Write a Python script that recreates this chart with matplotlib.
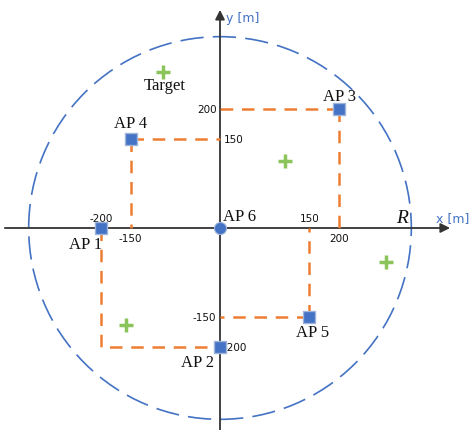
import numpy as np
import matplotlib
matplotlib.use("Agg")
import matplotlib.pyplot as plt
from matplotlib.patches import Circle

# Access point positions [m]
ap_names = ["AP 1", "AP 2", "AP 3", "AP 4", "AP 5", "AP 6"]
ap_x = [-200, 0, 200, -150, 150, 0]
ap_y = [0, -200, 200, 150, -150, 0]

# Target positions [m]
target_x = [-96, 109, 279, -158]
target_y = [262, 113, -57, -163]

# Coverage radius [m]
radius = 321

BLUE = "#4472C4"
ORANGE = "#ED7D31"
GREEN = "#8CC45C"

fig = plt.figure(figsize=(4.71, 4.31), dpi=100)
ax = fig.add_axes([0, 0, 1, 1])
ax.set_xlim(-369.1, 421.1)
ax.set_ylim(-338.9, 384.2)
ax.set_aspect("equal")
ax.axis("off")

# Coordinate axes with arrowheads
ax.annotate("", xy=(386, 0), xytext=(-361, 0),
            arrowprops=dict(arrowstyle="-|>", color="#333333", lw=1.3,
                            mutation_scale=14, shrinkA=0, shrinkB=0), zorder=2)
ax.annotate("", xy=(0, 366), xytext=(0, -340),
            arrowprops=dict(arrowstyle="-|>", color="#333333", lw=1.3,
                            mutation_scale=14, shrinkA=0, shrinkB=0), zorder=2)

# Coverage circle
ax.add_patch(Circle((0, 0), radius, fill=False, ec=BLUE, lw=1.2,
                    ls=(0, (14, 5.5)), zorder=1))

# Projection lines from the access points onto the axes
dash = (0, (5, 3.5))
for x, y in zip(ap_x[:5], ap_y[:5]):
    if x != 0 and y != 0:
        ax.plot([x, 0], [y, y], color=ORANGE, lw=1.8, ls=dash, zorder=3)
        ax.plot([x, x], [y, 0], color=ORANGE, lw=1.8, ls=dash, zorder=3)
# AP 1 and AP 2 corner
ax.plot([ap_x[0], ap_x[0], ap_x[1]], [ap_y[0], ap_y[1], ap_y[1]],
        color=ORANGE, lw=1.8, ls=dash, zorder=3)

# Access points
ax.scatter(ap_x[:5], ap_y[:5], marker="s", s=70, c=BLUE,
           edgecolors="#9FB4DA", linewidths=1.0, zorder=5)
ax.scatter(ap_x[5:], ap_y[5:], marker="o", s=75, c=BLUE,
           edgecolors="#9FB4DA", linewidths=0.8, zorder=5)

# Targets
ax.scatter(target_x, target_y, marker="+", s=95, c=GREEN,
           linewidths=2.5, zorder=4)

serif = dict(family="Liberation Serif", fontsize=12, color="#111111")
label_pos = {
    "AP 1": (-225, -27, "center", "center"),
    "AP 2": (-38, -225, "center", "center"),
    "AP 3": (200, 222, "center", "center"),
    "AP 4": (-150, 176, "center", "center"),
    "AP 5": (155, -175, "center", "center"),
    "AP 6": (33, 20, "center", "center"),
}
for name in ap_names:
    x, y, ha, va = label_pos[name]
    ax.text(x, y, name, ha=ha, va=va, **serif)
ax.text(-92, 240, "Target", ha="center", va="center", **serif)
ax.text(305, 18, "R", ha="center", va="center", family="Liberation Serif",
        fontsize=14, style="italic", color="#111111")

# Tick value labels
tick = dict(family="DejaVu Sans", fontsize=7.5, color="#111111")
ax.text(-6, 200, "200", ha="right", va="center", **tick)
ax.text(6, 150, "150", ha="left", va="center", **tick)
ax.text(-6, -150, "-150", ha="right", va="center", **tick)
ax.text(6, -200, "-200", ha="left", va="center", **tick)
ax.text(-200, 8, "-200", ha="center", va="bottom", **tick)
ax.text(-150, -8, "-150", ha="center", va="top", **tick)
ax.text(150, 8, "150", ha="center", va="bottom", **tick)
ax.text(200, -8, "200", ha="center", va="top", **tick)

# Axis names
ax.text(363, 18, "x [m]", ha="left", va="center", color=BLUE,
        family="DejaVu Sans", fontsize=9)
ax.text(10, 353, "y [m]", ha="left", va="center", color=BLUE,
        family="DejaVu Sans", fontsize=9)

fig.savefig("out.png", dpi=100)
